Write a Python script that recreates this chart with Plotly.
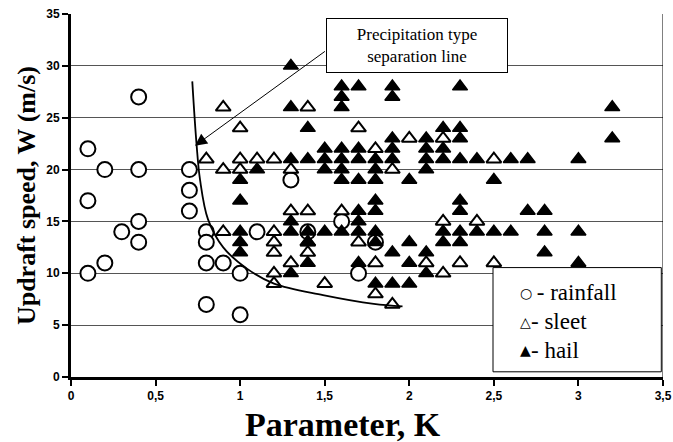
import plotly.graph_objects as go

# ---------------- data ----------------
rain_x = [0.1, 0.1, 0.1, 0.2, 0.2, 0.3, 0.4, 0.4, 0.4, 0.4, 0.7, 0.7, 0.7,
          0.8, 0.8, 0.8, 0.8, 0.9, 1.0, 1.0, 1.1, 1.3, 1.4, 1.6, 1.7, 1.8]
rain_y = [22, 17, 10, 20, 11, 14, 27, 20, 15, 13, 20, 18, 16,
          14, 13, 11, 7, 11, 10, 6, 14, 19, 14, 15, 10, 13]

sleet_x = [0.8, 0.9, 0.9, 0.9, 1.0, 1.0, 1.0, 1.1, 1.2, 1.2, 1.2, 1.2, 1.2, 1.2,
           1.3, 1.3, 1.3, 1.4, 1.4, 1.4, 1.4, 1.5, 1.6, 1.7, 1.7, 1.8, 1.8, 1.8,
           1.9, 1.9, 2.0, 2.1, 2.2, 2.2, 2.2, 2.3, 2.4, 2.5, 2.5]
sleet_y = [21, 26, 20, 14, 24, 21, 20, 21, 21, 14, 13, 12, 10, 9,
           20, 16, 11, 26, 16, 13, 12, 9, 16, 24, 13, 22, 11, 8,
           20, 7, 23, 11, 23, 15, 10, 11, 15, 21, 11]

hail_x = [1.0, 1.0, 1.0, 1.0, 1.0,
          1.1,
          1.3, 1.3, 1.3, 1.3, 1.3, 1.3,
          1.4, 1.4, 1.4, 1.4, 1.4,
          1.5, 1.5, 1.5, 1.5,
          1.6, 1.6, 1.6, 1.6, 1.6, 1.6, 1.6, 1.6,
          1.7, 1.7, 1.7, 1.7, 1.7, 1.7, 1.7, 1.7,
          1.8, 1.8, 1.8, 1.8, 1.8, 1.8, 1.8, 1.8,
          1.9, 1.9, 1.9, 1.9, 1.9, 1.9, 1.9,
          2.0, 2.0, 2.0, 2.0,
          2.1, 2.1, 2.1, 2.1, 2.1, 2.1,
          2.2, 2.2, 2.2, 2.2, 2.2,
          2.3, 2.3, 2.3, 2.3, 2.3, 2.3, 2.3, 2.3,
          2.4, 2.4,
          2.5, 2.5,
          2.6, 2.6,
          2.7, 2.7,
          2.8, 2.8, 2.8,
          3.0, 3.0, 3.0,
          3.2, 3.2]
hail_y = [19, 17, 14, 13, 12,
          20,
          30, 26, 21, 15, 14, 10,
          24, 21, 14, 13, 11,
          22, 21, 20, 14,
          28, 27, 26, 22, 21, 20, 19, 14,
          28, 22, 21, 19, 16, 15, 14, 11,
          21, 20, 19, 17, 16, 14, 13, 9,
          28, 27, 23, 22, 21, 12, 9,
          19, 13, 11, 9,
          23, 22, 21, 20, 12, 10,
          24, 22, 21, 14, 13,
          28, 24, 23, 21, 17, 16, 14, 13,
          21, 14,
          19, 14,
          21, 14,
          21, 16,
          16, 14, 12,
          21, 14, 11,
          26, 23]

# hand-drawn separation line
sep_x = [0.717, 0.742, 0.763, 0.81, 0.90, 1.04, 1.20, 1.49, 1.79, 1.96]
sep_y = [28.5, 22.5, 19.0, 15.2, 12.5, 10.45, 9.0, 7.9, 7.05, 6.8]

x_tick_vals = [0, 0.5, 1, 1.5, 2, 2.5, 3, 3.5]
x_tick_text = ["0", "0,5", "1", "1,5", "2", "2,5", "3", "3,5"]
y_tick_vals = [0, 5, 10, 15, 20, 25, 30, 35]

legend_symbols = ["\u25CB", "\u25B3", "\u25B2"]
legend_labels = [" - rainfall", "- sleet", "- hail"]
note_text = "Precipitation type<br>separation line"

# ---------------- figure ----------------
serif = "Liberation Serif, Times New Roman, serif"
sans = "Liberation Sans, Arial, sans-serif"

fig = go.Figure()
fig.add_trace(go.Scatter(
    x=rain_x, y=rain_y, mode="markers", name="rainfall",
    marker=dict(symbol="circle", size=15, color="white",
                line=dict(color="black", width=2))))
fig.add_trace(go.Scatter(
    x=sleet_x, y=sleet_y, mode="markers", name="sleet",
    marker=dict(symbol="triangle-up", size=13, color="white",
                line=dict(color="black", width=2))))
fig.add_trace(go.Scatter(
    x=hail_x, y=hail_y, mode="markers", name="hail",
    marker=dict(symbol="triangle-up", size=13, color="black",
                line=dict(color="black", width=1.5))))
fig.add_trace(go.Scatter(
    x=sep_x, y=sep_y, mode="lines", name="separation line",
    line=dict(color="black", width=1.8, shape="spline", smoothing=1.0),
    hoverinfo="skip"))

fig.update_layout(
    width=673, height=442,
    margin=dict(l=71, r=10, t=14, b=65),
    paper_bgcolor="white", plot_bgcolor="white",
    showlegend=False,
    xaxis=dict(range=[0, 3.5], tickvals=x_tick_vals, ticktext=x_tick_text,
               showgrid=False, zeroline=False, automargin=False,
               showline=True, linecolor="black", linewidth=3,
               ticks="outside", ticklen=6, tickwidth=2, tickcolor="black",
               tickfont=dict(family=sans, size=12, color="black", weight="bold")),
    yaxis=dict(range=[0, 35], tickvals=y_tick_vals, automargin=False,
               showgrid=True, gridcolor="#555555", gridwidth=1, zeroline=False,
               showline=True, linecolor="black", linewidth=3,
               ticks="outside", ticklen=6, tickwidth=2, tickcolor="black",
               tickfont=dict(family=sans, size=12, color="black", weight="bold")),
)

# right border of plot area
fig.add_shape(type="line", xref="x", yref="y", x0=3.5, x1=3.5, y0=0, y1=35,
              line=dict(color="black", width=1), layer="above")

# axis titles
fig.add_annotation(text="<b>Parameter, K</b>", xref="paper", yref="paper",
                   x=0.46, y=-0.13, xanchor="center", yanchor="middle",
                   showarrow=False,
                   font=dict(family=serif, size=34, color="black"))
fig.add_annotation(text="<b>Updraft speed, W (m/s)</b>", xref="paper", yref="paper",
                   x=-0.075, y=0.5, xanchor="center", yanchor="middle",
                   textangle=-90, showarrow=False,
                   font=dict(family=serif, size=26, color="black"))

# callout box with arrow
fig.add_annotation(text=note_text, xref="x", yref="y", x=2.044, y=31.95,
                   showarrow=False, width=178, height=51,
                   bgcolor="white", bordercolor="black", borderwidth=1,
                   font=dict(family=serif, size=17, color="black"))
fig.add_annotation(text="", xref="x", yref="y", x=0.733, y=22.3,
                   axref="x", ayref="y", ax=1.51, ay=31.5,
                   showarrow=True, arrowhead=2, arrowsize=2.4, arrowwidth=1,
                   arrowcolor="black")

# legend box (drawn as shapes/text)
fig.add_shape(type="rect", xref="x", yref="y", x0=2.495, x1=3.49, y0=0.5, y1=10.55,
              line=dict(color="black", width=1), fillcolor="white", layer="above")
for i, (sym, lab) in enumerate(zip(legend_symbols, legend_labels)):
    yy = 8.1 - i * 2.75
    fig.add_annotation(text=sym, xref="x", yref="y", x=2.64, y=yy,
                       xanchor="left", yanchor="middle", showarrow=False,
                       font=dict(family="DejaVu Sans", size=14, color="black"))
    fig.add_annotation(text=lab, xref="x", yref="y", x=2.71, y=yy,
                       xanchor="left", yanchor="middle", showarrow=False,
                       font=dict(family="Liberation Serif", size=23, color="black"))

fig.write_html("out.html",
               config={"displayModeBar": False},
               post_script="document.body.style.margin='0';document.body.style.overflow='hidden';")
